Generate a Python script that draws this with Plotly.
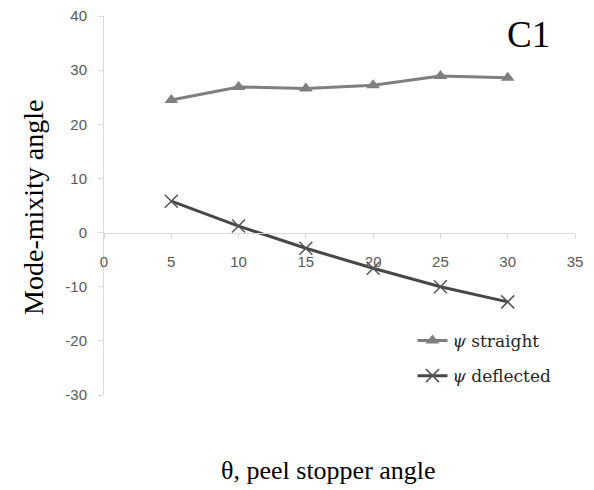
import plotly.graph_objects as go

theta = [5, 10, 15, 20, 25, 30]
psi_straight = [24.5, 26.9, 26.6, 27.2, 28.9, 28.6]
psi_deflected = [5.8, 1.2, -2.9, -6.6, -10.0, -12.8]
x_ticks = [0, 5, 10, 15, 20, 25, 30, 35]
y_ticks = [-30, -20, -10, 0, 10, 20, 30, 40]
y_tick_labels = ["-30", "-20", "-10", "0", "10", "20", "30", "40"]

fig = go.Figure()
fig.add_trace(go.Scatter(
    x=theta, y=psi_straight, mode="lines+markers",
    name="<i>ψ</i> straight", legendgroup="s",
    line=dict(color="#7f7f7f", width=3),
    marker=dict(symbol="triangle-up", size=12, color="#7f7f7f"),
))
fig.add_trace(go.Scatter(
    x=theta, y=psi_deflected, mode="lines+markers",
    name="<i>ψ</i> deflected", legendgroup="d",
    line=dict(color="#474747", width=3),
    marker=dict(symbol="x-thin", size=13, line=dict(color="#555555", width=1.5)),
))

y0_frac = (0 - y_ticks[0]) / (y_ticks[-1] - y_ticks[0])
tickfont = dict(family="Liberation Sans", size=15, color="#595959")

fig.update_layout(
    width=586, height=482,
    margin=dict(l=96, r=19, t=8, b=95, autoexpand=False),
    plot_bgcolor="white", paper_bgcolor="white",
    showlegend=True,
    legend=dict(
        x=0.655, y=0.19, xanchor="left", yanchor="top",
        font=dict(family="DejaVu Serif", size=17, color="#262626"),
        bgcolor="rgba(0,0,0,0)", tracegroupgap=10,
    ),
    xaxis=dict(
        range=[0, 35], tickvals=x_ticks, showgrid=False, zeroline=False,
        showline=True, linecolor="#d9d9d9", linewidth=1,
        ticks="outside", ticklen=5, tickcolor="#d9d9d9",
        anchor="free", position=y0_frac, ticklabelstandoff=10,
        tickfont=tickfont, automargin=False,
    ),
    yaxis=dict(
        range=[-30, 40], tickvals=y_ticks, ticktext=y_tick_labels,
        showgrid=False, zeroline=False,
        showline=True, linecolor="#d9d9d9", linewidth=1,
        ticks="outside", ticklen=5, tickcolor="#d9d9d9",
        ticklabelstandoff=8, ticklabeloverflow="allow",
        tickfont=tickfont, automargin=False,
    ),
    annotations=[
        dict(text="Mode-mixity angle", xref="paper", yref="paper",
             x=-0.151, y=0.496, xanchor="center", yanchor="middle",
             textangle=-90, showarrow=False,
             font=dict(family="Liberation Serif", size=28, color="black")),
        dict(text="θ, peel stopper angle", xref="paper", yref="paper",
             x=0.476, y=-0.198, xanchor="center", yanchor="middle",
             showarrow=False,
             font=dict(family="Liberation Serif", size=26, color="black")),
        dict(text="C1", xref="paper", yref="paper",
             x=0.902, y=0.95, xanchor="center", yanchor="middle",
             showarrow=False,
             font=dict(family="Liberation Serif", size=37, color="black")),
    ],
)

fig.write_html("out.html")
